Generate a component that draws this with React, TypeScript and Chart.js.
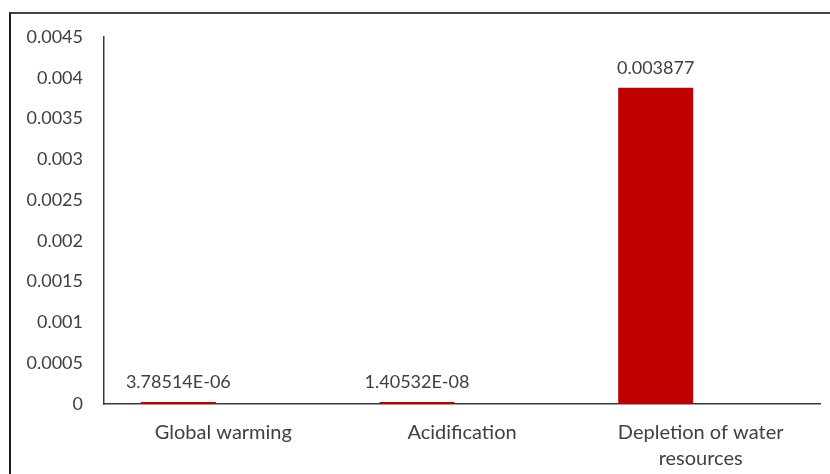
import React, { useEffect, useRef } from "react";
import { Chart, registerables } from "chart.js";

Chart.register(...registerables);

const categories: (string | string[])[] = [
  "Global warming",
  "Acidification",
  ["Depletion of water", "resources"],
];
const impactValues: number[] = [3.78514e-6, 1.40532e-8, 0.003877];
// Placeholder series that keeps the bars grouped to the left of each category slot
const emptySeries: (number | null)[] = [null, null, null];
const yTicks: number[] = [0, 0.0005, 0.001, 0.0015, 0.002, 0.0025, 0.003, 0.0035, 0.004, 0.0045];

const FONT = "Lato, 'Open Sans', sans-serif";
const TEXT_COLOR = "#404040";
const BAR_COLOR = "#C00000";

// Excel-style "General" number format: scientific for very small values
function formatValue(v: number): string {
  if (v !== 0 && Math.abs(v) < 1e-4) {
    const [mantissa, expStr] = v.toExponential(5).split("e");
    const exp = parseInt(expStr, 10);
    return `${mantissa}E${exp < 0 ? "-" : "+"}${String(Math.abs(exp)).padStart(2, "0")}`;
  }
  return String(v);
}

const valueLabels = {
  id: "valueLabels",
  afterDatasetsDraw(chart: any) {
    const ctx = chart.ctx;
    const meta = chart.getDatasetMeta(0);
    const data = chart.data.datasets[0].data as number[];
    ctx.save();
    ctx.font = `18px ${FONT}`;
    ctx.fillStyle = TEXT_COLOR;
    ctx.textAlign = "center";
    ctx.textBaseline = "middle";
    meta.data.forEach((el: any, i: number) => {
      const v = data[i];
      if (v === null || v === undefined) return;
      ctx.fillText(formatValue(v), el.x, el.y - 20);
    });
    ctx.restore();
  },
};

export default function App() {
  const canvasRef = useRef<HTMLCanvasElement | null>(null);

  useEffect(() => {
    if (!canvasRef.current) return;
    const chart = new Chart(canvasRef.current, {
      type: "bar",
      data: {
        labels: categories,
        datasets: [
          {
            label: "Impact",
            data: impactValues,
            backgroundColor: BAR_COLOR,
            minBarLength: 2,
            categoryPercentage: 0.754,
            barPercentage: 0.833,
          },
          {
            label: "",
            data: emptySeries,
            backgroundColor: BAR_COLOR,
            categoryPercentage: 0.754,
            barPercentage: 0.833,
          },
        ],
      },
      options: {
        animation: false,
        responsive: false,
        maintainAspectRatio: false,
        devicePixelRatio: 1,
        layout: { padding: { top: 37, right: 10, left: 0, bottom: 0 } },
        plugins: {
          legend: { display: false },
          tooltip: { enabled: false },
        },
        scales: {
          x: {
            grid: { display: false, drawTicks: false },
            border: { display: true, color: "#3a3a3a", width: 1.5 },
            ticks: {
              color: TEXT_COLOR,
              font: { family: FONT, size: 20, lineHeight: 1.3 },
              padding: 16,
              maxRotation: 0,
              autoSkip: false,
            },
            afterFit(scale: any) {
              scale.height = 70;
            },
          },
          y: {
            min: 0,
            max: 0.0045,
            grid: { display: false, drawTicks: false },
            border: { display: true, color: "#3a3a3a", width: 1.5 },
            afterBuildTicks(scale: any) {
              scale.ticks = yTicks.map((value) => ({ value }));
            },
            ticks: {
              color: TEXT_COLOR,
              font: { family: FONT, size: 18 },
              padding: 21,
              callback: (v: any) => String(+Number(v).toFixed(4)),
            },
            afterFit(scale: any) {
              scale.width = 104;
            },
          },
        },
      },
      plugins: [valueLabels],
    });
    return () => chart.destroy();
  }, []);

  return (
    <div
      style={{
        position: "absolute",
        left: 0,
        top: 0,
        width: 830,
        height: 474,
        background: "#ffffff",
        overflow: "hidden",
      }}
    >
      <div
        style={{
          position: "absolute",
          left: 9,
          top: 12,
          width: 900,
          height: 600,
          borderLeft: "2px solid #1e1e1e",
          borderTop: "2px solid #444444",
        }}
      />
      <canvas
        ref={canvasRef}
        width={830}
        height={474}
        style={{ position: "absolute", left: 0, top: 0, width: 830, height: 474 }}
      />
    </div>
  );
}
